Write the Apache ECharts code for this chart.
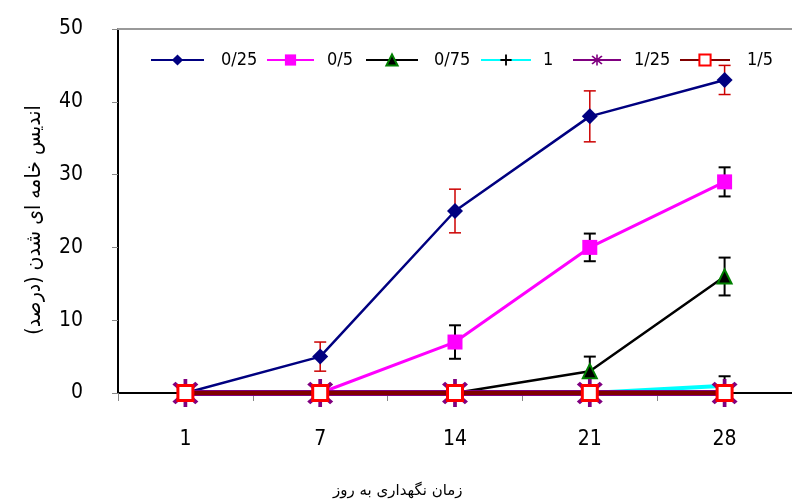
<!DOCTYPE html>
<html><head><meta charset="utf-8">
<script src="https://cdn.jsdelivr.net/npm/echarts@6/dist/echarts.min.js"></script>
<style>html,body{margin:0;padding:0;background:#fff}#c{width:792px;height:504px}</style>
</head><body><div id="c"></div>
<script>
const categories = ['1','7','14','21','28'];
const seriesNames = ['0/25','0/5','0/75','1','1/25','1/5'];
const s025 = [0, 5, 25, 38, 43];
const s05  = [0, 0, 7, 20, 29];
const s075 = [0, 0, 0, 3, 16];
const s1   = [0, 0, 0, 0, 1];
const s125 = [0, 0, 0, 0, 0];
const s15  = [0, 0, 0, 0, 0];
const err025 = [null, 2, 3, 3.5, 2];
const err05  = [null, null, 2.3, 1.9, 2];
const err075 = [null, null, null, 2, 2.6];
const err1   = [null, null, null, null, 1.3];
const yTicks = [0, 10, 20, 30, 40, 50];

const NARROW = "'Liberation Sans Narrow','DejaVu Sans Condensed',sans-serif";
const asterisk = 'path://M-1.5,-13 L1.5,-13 L1.5,13 L-1.5,13 Z M-8,-10.5 L10.5,8 L8,10.5 L-10.5,-8 Z M8,-10.5 L10.5,-8 L-8,10.5 L-10.5,8 Z';
const plus = 'path://M-1,-6 L1,-6 L1,-1 L6,-1 L6,1 L1,1 L1,6 L-1,6 L-1,1 L-6,1 L-6,-1 L-1,-1 Z';
const legendLeft  = [150, 266, 365, 480, 572, 679];
const legendIconW = [53, 47, 52, 50, 48, 50];
const legendTextX = [220, 326, 433, 542, 633, 746];

function errData(vals, errs) {
  const out = [];
  vals.forEach((v, i) => { if (errs[i] != null) out.push([i, v - errs[i], v + errs[i]]); });
  return out;
}
function errSeries(vals, errs, color, width) {
  return {
    type: 'custom', silent: true, z: 1,
    data: errData(vals, errs),
    encode: { x: 0, y: [1, 2] },
    renderItem: function (params, api) {
      const lo = api.coord([api.value(0), api.value(1)]);
      const hi = api.coord([api.value(0), api.value(2)]);
      const w = 6;
      const st = { stroke: color, lineWidth: width, fill: null };
      return { type: 'group', children: [
        { type: 'line', shape: { x1: lo[0], y1: lo[1], x2: hi[0], y2: hi[1] }, style: st },
        { type: 'line', shape: { x1: lo[0]-w, y1: lo[1], x2: lo[0]+w, y2: lo[1] }, style: st },
        { type: 'line', shape: { x1: hi[0]-w, y1: hi[1], x2: hi[0]+w, y2: hi[1] }, style: st }
      ]};
    }
  };
}

const legends = seriesNames.map((n, i) => ({
  data: [n], left: legendLeft[i], top: 51, padding: 0,
  itemWidth: legendIconW[i], itemHeight: 14,
  textStyle: { fontFamily: NARROW, fontSize: 18, color: '#000',
    padding: [0, 0, 0, legendTextX[i] - legendLeft[i] - legendIconW[i] - 5] }
}));

const chart = echarts.init(document.getElementById('c'), null, { renderer: 'canvas' });
chart.setOption({
  animation: false,
  backgroundColor: '#fff',
  grid: { left: 118, width: 685, top: 29, bottom: 111, containLabel: false },
  legend: legends,
  graphic: [{
    type: 'text', left: 333, top: 484,
    style: { text: 'زمان نگهداری به روز', font: "15px 'DejaVu Sans'", fill: '#000' }
  }, {
    type: 'text', x: 35, y: 220, rotation: Math.PI / 2,
    style: { text: 'اندیس خامه ای شدن (درصد)', font: "21px 'DejaVu Sans Condensed','DejaVu Sans'",
      fill: '#000', align: 'center', verticalAlign: 'middle' }
  }],
  xAxis: [{
    type: 'category', data: categories, boundaryGap: true,
    axisLine: { lineStyle: { color: '#000', width: 2 } },
    axisTick: { show: true, alignWithLabel: false, length: 8, lineStyle: { color: '#888' } },
    axisLabel: { fontFamily: NARROW, fontSize: 21, color: '#000', margin: 36 }
  }, {
    type: 'category', data: categories, position: 'top', gridIndex: 0,
    axisLine: { lineStyle: { color: '#999', width: 2 } },
    axisTick: { show: false }, axisLabel: { show: false }
  }],
  yAxis: {
    type: 'value', min: yTicks[0], max: yTicks[yTicks.length-1], interval: 10,
    axisLine: { show: true, lineStyle: { color: '#000', width: 2 } },
    axisTick: { show: true, length: 6, lineStyle: { color: '#888' } },
    splitLine: { show: false },
    axisLabel: { fontFamily: NARROW, fontSize: 21, color: '#000', margin: 35, padding: [0, 0, 7, 0] }
  },
  series: [
    errSeries(s025, err025, '#cc0000', 1.5),
    errSeries(s05, err05, '#000', 2),
    errSeries(s075, err075, '#000', 2),
    errSeries(s1, err1, '#000', 2),
    { name: '0/25', type: 'line', data: s025, symbol: 'diamond', symbolSize: 16, z: 3,
      lineStyle: { color: '#000080', width: 2.5 }, itemStyle: { color: '#000080' } },
    { name: '0/5', type: 'line', data: s05, symbol: 'rect', symbolSize: 15, z: 3,
      lineStyle: { color: '#ff00ff', width: 3 }, itemStyle: { color: '#ff00ff' } },
    { name: '0/75', type: 'line', data: s075, symbol: 'triangle', symbolSize: 14, z: 3,
      lineStyle: { color: '#000', width: 2.5 }, itemStyle: { color: '#000', borderColor: '#008000', borderWidth: 2 } },
    { name: '1', type: 'line', data: s1, symbol: plus, symbolSize: 12, z: 3,
      lineStyle: { color: '#00ffff', width: 4 }, itemStyle: { color: '#000' } },
    { name: '1/25', type: 'line', data: s125, symbol: asterisk, symbolSize: [26, 28], z: 4,
      lineStyle: { color: '#800080', width: 6 }, itemStyle: { color: '#800080' } },
    { name: '1/5', type: 'line', data: s15, symbol: 'rect', symbolSize: 15, z: 5,
      lineStyle: { color: '#800000', width: 4 }, itemStyle: { color: '#fff', borderColor: '#ff0000', borderWidth: 3 } }
  ]
});
</script></body></html>
